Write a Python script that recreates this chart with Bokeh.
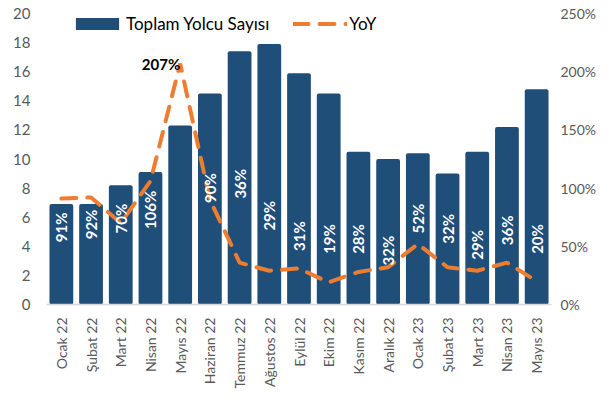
from math import pi
from bokeh.plotting import figure
from bokeh.models import (ColumnDataSource, FactorRange, Range1d, LinearAxis,
                          PrintfTickFormatter, Legend, LegendItem, FixedTicker)
from bokeh.core.properties import value
from bokeh.embed import file_html
from bokeh.resources import INLINE

months = ["Ocak 22", "Şubat 22", "Mart 22", "Nisan 22", "Mayıs 22", "Haziran 22",
          "Temmuz 22", "Ağustos 22", "Eylül 22", "Ekim 22", "Kasım 22", "Aralık 22",
          "Ocak 23", "Şubat 23", "Mart 23", "Nisan 23", "Mayıs 23"]
passengers = [6.9, 6.9, 8.2, 9.1, 12.3, 14.5, 17.4, 17.9, 15.9, 14.5, 10.5, 10.0,
              10.4, 9.0, 10.5, 12.2, 14.8]
yoy = [91, 92, 70, 106, 207, 90, 36, 29, 31, 19, 28, 32, 52, 32, 29, 36, 20]
yoy_labels = ["91%", "92%", "70%", "106%", "", "90%", "36%", "29%", "31%", "19%",
              "28%", "32%", "52%", "32%", "29%", "36%", "20%"]
# vertical anchor of each rotated label (left-axis units, as placed in the original)
label_y = [5.3, 5.5, 5.9, 6.5, 0, 8.0, 8.3, 6.1, 4.7, 4.5, 4.5, 3.7, 5.9, 5.2, 4.1, 5.1, 4.5]

BAR = "#1F4E79"
ORANGE = "#ED7D31"
GREY = "#595959"
FONT = "Lato"

src = ColumnDataSource(dict(m=months, v=passengers, yoy=yoy))

p = figure(width=599, height=391, output_backend="svg", toolbar_location=None,
           x_range=FactorRange(*months, range_padding=0), y_range=Range1d(0, 20),
           min_border_left=46, min_border_right=40, min_border_top=13, min_border_bottom=82)
p.outline_line_color = None
p.xgrid.grid_line_color = None
p.ygrid.grid_line_color = None
p.background_fill_color = "white"

p.extra_y_ranges = {"pct": Range1d(0, 250)}

bars = p.vbar(x="m", top="v", width=0.8, source=src, fill_color=BAR, line_color=None,
              border_radius=2)
line = p.line(x="m", y="yoy", source=src, y_range_name="pct", line_color=ORANGE,
              line_width=4, line_dash="15 11", line_cap="round")

# rotated labels
lab_src = ColumnDataSource(dict(m=[m for m, l in zip(months, yoy_labels) if l],
                                ly=[y for y, l in zip(label_y, yoy_labels) if l],
                                lab=[l for l in yoy_labels if l]))
p.text(x="m", y="ly", text="lab", source=lab_src, angle=pi / 2, text_align="center",
       text_baseline="middle", text_color="white", text_font=value(FONT),
       text_font_style="bold", text_font_size="15px")
peak_i = yoy.index(max(yoy))
p.text(x=[months[peak_i]], y=[16.5], text=[f"{yoy[peak_i]}%"], text_align="right",
       text_baseline="middle", text_color="black", text_font=value(FONT),
       text_font_style="bold", text_font_size="15px", x_offset=0)

# axes
p.yaxis.ticker = FixedTicker(ticks=list(range(0, 21, 2)))
ya = p.yaxis[0]
ya.axis_line_color = None
ya.major_tick_line_color = None
ya.minor_tick_line_color = None
ya.major_label_text_color = GREY
ya.major_label_text_font = FONT
ya.major_label_text_font_size = "15px"
ya.major_label_standoff = 10

r_ax = LinearAxis(y_range_name="pct", ticker=FixedTicker(ticks=[0, 50, 100, 150, 200, 250]),
                  formatter=PrintfTickFormatter(format="%d%%"))
r_ax.axis_line_color = None
r_ax.major_tick_line_color = None
r_ax.minor_tick_line_color = None
r_ax.major_label_text_color = GREY
r_ax.major_label_text_font = FONT
r_ax.major_label_text_font_size = "14px"
r_ax.major_label_standoff = 3
p.add_layout(r_ax, "right")

xa = p.xaxis[0]
xa.axis_line_color = "#D9D9D9"
xa.axis_line_width = 1.5
xa.major_tick_line_color = None
xa.minor_tick_line_color = None
xa.major_label_orientation = pi / 2
xa.major_label_text_color = GREY
xa.major_label_text_font = FONT
xa.major_label_text_font_size = "14px"
xa.major_label_standoff = 7

legend = Legend(items=[LegendItem(label="Toplam Yolcu Sayısı", renderers=[bars]),
                       LegendItem(label="YoY", renderers=[line])],
                orientation="horizontal", location=(24, 270))
legend.glyph_width = 54
legend.glyph_height = 15
legend.spacing = 24
legend.label_standoff = 2
legend.padding = 0
legend.margin = 0
legend.border_line_color = None
legend.background_fill_alpha = 0
legend.label_text_font = FONT
legend.label_text_font_size = "17px"
legend.label_text_color = "black"
p.add_layout(legend, "center")

open("out.html", "w").write(file_html(p, INLINE))
